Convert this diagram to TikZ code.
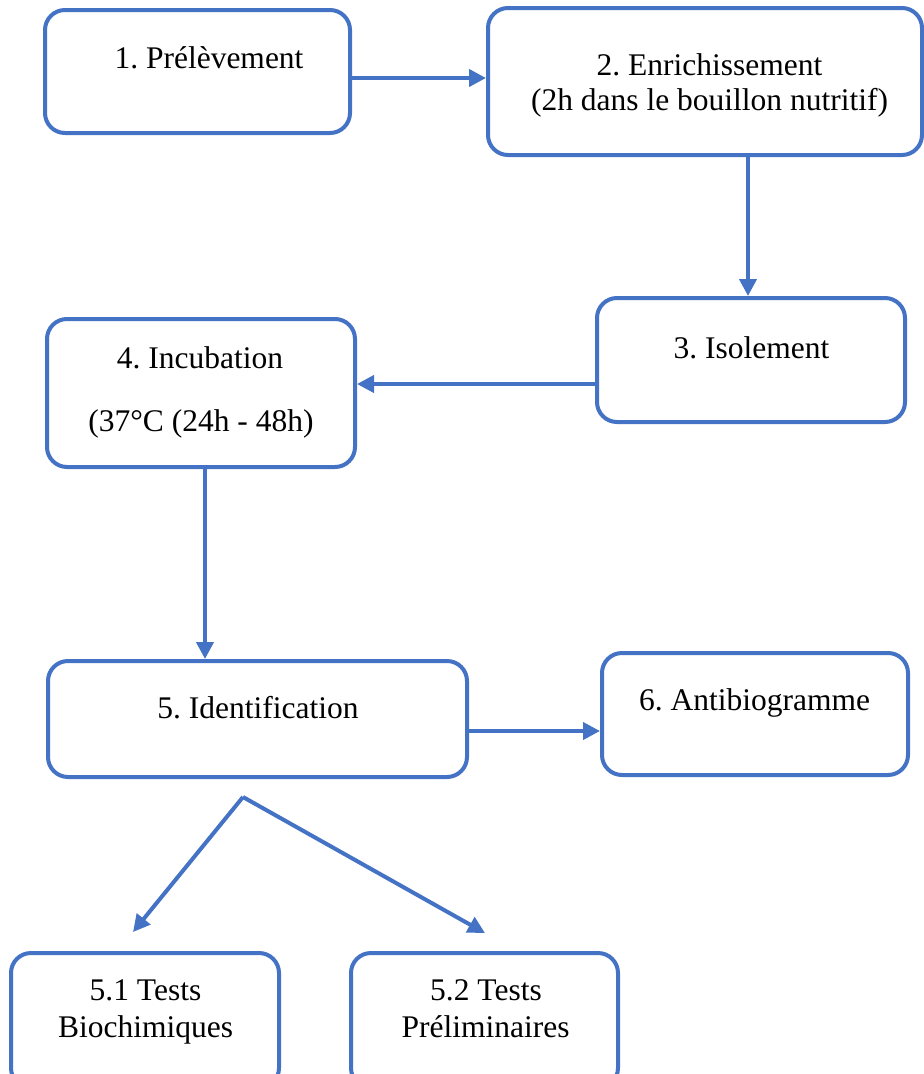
\documentclass[tikz,border=0pt]{standalone}
\usepackage{fontspec}
\setmainfont{Liberation Serif}
\usetikzlibrary{arrows.meta}
\definecolor{officeblue}{HTML}{4472C4}
\begin{document}
\begin{tikzpicture}[x=1pt,y=-1pt,
  box/.style={draw=officeblue, line width=4pt, rounded corners=20pt, inner sep=0pt, fill=white},
  lbl/.style={anchor=base, inner sep=0pt, font=\fontsize{31.5}{36}\selectfont\frenchspacing, text=black},
  arr/.style={draw=officeblue, line width=4pt, -{Triangle[length=17pt,width=17pt]}}]
\useasboundingbox (0,0) rectangle (924,1074);
\clip (0,0) rectangle (924,1074);
% boxes
\node[box, minimum width=305pt, minimum height=123pt] (b1) at (197.5,71.5) {};
\node[box, minimum width=434pt, minimum height=147pt] (b2) at (705,81.5) {};
\node[box, minimum width=308pt, minimum height=124pt] (b3) at (751,360) {};
\node[box, minimum width=308pt, minimum height=148pt] (b4) at (201,393) {};
\node[box, minimum width=419pt, minimum height=116pt] (b5) at (257.5,719) {};
\node[box, minimum width=306pt, minimum height=122pt] (b6) at (755,714) {};
\node[box, minimum width=268pt, minimum height=135pt] (b51) at (145,1020.5) {};
\node[box, minimum width=267pt, minimum height=135pt] (b52) at (484.5,1020.5) {};
% texts
\node[lbl] (t1) at (209,68) {1. Prélèvement};
\node[lbl] (t2a) at (709.5,75) {2. Enrichissement};
\node[lbl] (t2b) at (709.5,110) {(2h dans le bouillon nutritif)};
\node[lbl] (t3) at (751.5,358) {3. Isolement};
\node[lbl] (t4a) at (200,368) {4. Incubation};
\node[lbl] (t4b) at (201,431) {(37°C (24h - 48h)};
\node[lbl] (t5) at (258,718) {5. Identification};
\node[lbl] (t6) at (754.5,710) {6. Antibiogramme};
\node[lbl] (t51a) at (145.5,1000) {5.1 Tests};
\node[lbl] (t51b) at (145.5,1037) {Biochimiques};
\node[lbl] (t52a) at (486,1000) {5.2 Tests};
\node[lbl] (t52b) at (485.5,1037) {Préliminaires};
% connectors
\draw[arr] (b1.east |- 0,78) -- (b2.west |- 0,78);
\draw[arr] (b2.south -| 748,0) -- (b3.north -| 748,0);
\draw[arr] (b3.west |- 0,384) -- (b4.east |- 0,384);
\draw[arr] (b4.south -| 205,0) -- (b5.north -| 205,0);
\draw[arr] (b5.east |- 0,731) -- (b6.west |- 0,731);
\coordinate (apex) at (243,797);
\coordinate (tip51) at (133,932);
\coordinate (tip52) at (485,933);
\draw[arr] (apex) -- (tip51);
\draw[arr] (apex) -- (tip52);
\end{tikzpicture}
\end{document}
